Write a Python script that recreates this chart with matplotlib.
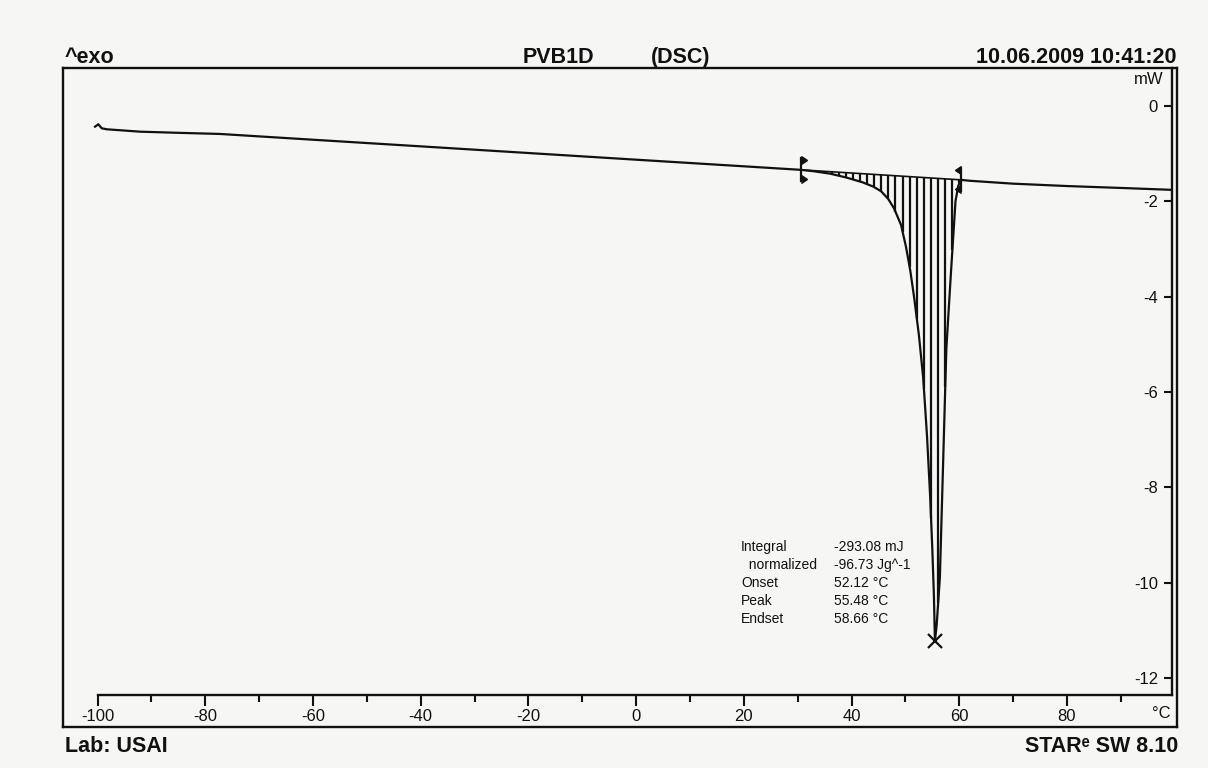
import numpy as np
import matplotlib
matplotlib.use("Agg")
import matplotlib.pyplot as plt

plt.rcParams['font.family'] = ['Liberation Sans', 'DejaVu Sans']
plt.rcParams['axes.unicode_minus'] = False

# DSC heating trace: temperature (°C) and heat flow (mW)
temperature = [-100.46, -99.85, -99.22, -98.29, -92.1, -85.98, -77.26, -60.0, -40.0,
               -20.0, 0.0, 20.0, 30.6, 33.0, 36.0, 39.0, 42.0, 44.0, 45.5, 46.8,
               47.9, 49.2, 50.1, 50.9, 51.6, 52.5, 53.3, 54.0, 54.6, 55.0, 55.3,
               55.48, 55.8, 56.4, 57.0, 57.6, 58.4, 59.3, 59.8, 60.3, 62.0, 70.0,
               80.0, 90.0, 99.5]
heat_flow = [-0.434, -0.384, -0.468, -0.489, -0.539, -0.560, -0.587, -0.708, -0.847,
             -0.987, -1.127, -1.266, -1.34, -1.37, -1.42, -1.50, -1.60, -1.69, -1.79,
             -1.95, -2.15, -2.50, -2.95, -3.45, -4.00, -4.80, -5.70, -6.90, -8.20,
             -9.30, -10.30, -11.23, -10.90, -9.90, -7.50, -5.10, -3.60, -2.00, -1.68,
             -1.55, -1.57, -1.63, -1.68, -1.72, -1.76]

x_ticks = [-100, -80, -60, -40, -20, 0, 20, 40, 60, 80]
x_minor = [-90, -70, -50, -30, -10, 10, 30, 50, 70, 90]
y_ticks = [0, -2, -4, -6, -8, -10, -12]

integration_limits = [30.6, 60.3]
peak_temperature = 55.48
peak_heat_flow = -11.23

result_names = ["Integral", "  normalized", "Onset", "Peak", "Endset"]
result_values = ["-293.08 mJ", "-96.73 Jg^-1", "52.12 °C", "55.48 °C", "58.66 °C"]

W, H = 1208, 768
bg = '#f6f6f4'
ink = '#111111'


def fx(px):
    return px / W


def fy(py):
    return 1 - py / H


fig = plt.figure(figsize=(W / 100, H / 100), dpi=100, facecolor=bg)

# outer page frame
frame = fig.add_axes([fx(63), fy(727), fx(1177 - 63), (727 - 68) / H])
frame.set_xticks([])
frame.set_yticks([])
frame.patch.set_alpha(0)
for s in frame.spines.values():
    s.set_linewidth(1.7)
    s.set_color(ink)

# plotting area with bottom temperature axis and right heat-flow axis
ax = fig.add_axes([fx(63), fy(695), fx(1172 - 63), (695 - 68) / H])
ax.patch.set_alpha(0)
ax.set_xlim(-106.41, 99.50)
ax.set_ylim(-12.36, 0.797)
ax.spines['left'].set_visible(False)
ax.spines['top'].set_visible(False)
ax.spines['bottom'].set_bounds(-100, 99.5)
for side in ('bottom', 'right'):
    ax.spines[side].set_linewidth(1.7)
    ax.spines[side].set_color(ink)

ax.set_xticks(x_ticks)
ax.set_xticks(x_minor, minor=True)
ax.tick_params(axis='x', which='major', direction='out', length=8, width=1.5,
               pad=2, labelsize=12, colors=ink)
ax.tick_params(axis='x', which='minor', direction='out', length=5, width=1.5, colors=ink)

ax.yaxis.tick_right()
ax.set_yticks(y_ticks)
ax.tick_params(axis='y', which='major', direction='in', length=6, width=1.5,
               pad=-10, labelsize=12, colors=ink)
for lab in ax.get_yticklabels():
    lab.set_horizontalalignment('right')

# measured curve
ax.plot(temperature, heat_flow, color=ink, lw=1.6, solid_joinstyle='round')

# integration baseline between the limits and vertical hatching of the peak area
t0, t1 = integration_limits
b0 = np.interp(t0, temperature, heat_flow)
b1 = np.interp(t1, temperature, heat_flow)
ax.plot([t0, t1], [b0, b1], color=ink, lw=1.2)
hatch_t = np.arange(31.0, t1, 1.32)
hatch_base = b0 + (b1 - b0) * (hatch_t - t0) / (t1 - t0)
hatch_curve = np.interp(hatch_t, temperature, heat_flow)
ax.vlines(hatch_t, hatch_curve, hatch_base, color=ink, lw=1.6)

# integration limit markers
for t, b, mk in ((t0, b0, 9), (t1, b1, 8)):
    ax.plot([t, t], [b + 0.24, b - 0.24], color=ink, lw=1.6)
    ax.plot([t, t], [b + 0.2, b - 0.2], ls='none', marker=mk, ms=6, color=ink)

# peak marker
ax.plot([peak_temperature], [peak_heat_flow], marker='x', ms=10, mew=1.6,
        color=ink, ls='none')

# evaluation results
for i, (name, val) in enumerate(zip(result_names, result_values)):
    yy = fy(547 + 18 * i)
    fig.text(fx(741), yy, name, fontsize=10, va='center', ha='left', color=ink)
    fig.text(fx(834), yy, val, fontsize=10, va='center', ha='left', color=ink)

# unit labels
fig.text(fx(1164), fy(80), "mW", fontsize=12, ha='right', va='center', color=ink)
fig.text(fx(1171), fy(713), "°C", fontsize=12, ha='right', va='center', color=ink)

# header and footer
hdr = dict(fontsize=15.5, fontweight='bold', color=ink, va='baseline')
fig.text(fx(65), fy(63), "^exo", ha='left', **hdr)
fig.text(fx(523), fy(63), "PVB1D", ha='left', **hdr)
fig.text(fx(651), fy(63), "(DSC)", ha='left', **hdr)
fig.text(fx(1177), fy(63), "10.06.2009 10:41:20", ha='right', **hdr)
fig.text(fx(65), fy(752), "Lab: USAI", ha='left', **hdr)
fig.text(fx(1178), fy(752), "STARᵉ SW 8.10", ha='right', **hdr)

fig.savefig("out.png", dpi=100, facecolor=bg)
